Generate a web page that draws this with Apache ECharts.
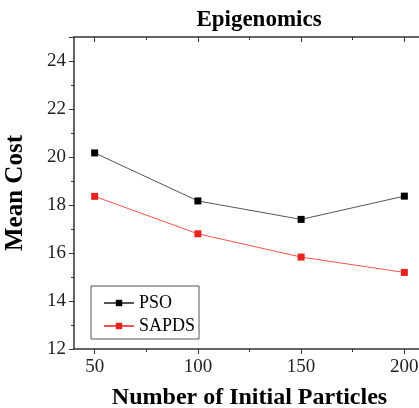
<!DOCTYPE html>
<html>
<head>
<meta charset="utf-8">
<script src="https://cdn.jsdelivr.net/npm/echarts@6/dist/echarts.min.js"></script>
<style>
html, body { margin: 0; padding: 0; background: #fff; }
#container { width: 419px; height: 408px; }
</style>
</head>
<body>
<div id="container"></div>
<script>
// particles on x
const particles = [50, 100, 150, 200];
const psoCost = [20.17, 18.17, 17.4, 18.37];
const sapdsCost = [18.36, 16.8, 15.83, 15.19];
const seriesNames = ['PSO', 'SAPDS'];
const xTicks = [50, 100, 150, 200];
const xMinorTicks = [75, 125, 175];

const font = 'Liberation Serif';
const axisColor = '#333';

function pairs(ys) {
	return particles.map(function (x, i) { return [x, ys[i]]; });
}

// x axis helper: bottom / top, major or minor ticks only
function xAxisOf(pos, ticks, len, withLine, inside) {
	return {
		type: 'value',
		position: pos,
		min: 40,
		max: 210,
		axisLine: { show: withLine, onZero: false, lineStyle: { color: axisColor, width: 1.5 } },
		axisTick: { show: true, inside: inside, length: len, customValues: ticks, lineStyle: { color: axisColor } },
		splitLine: { show: false },
		axisLabel: { show: false }
	};
}

var dom = document.getElementById("container");
var myChart = echarts.init(dom);

var mainX = xAxisOf('bottom', xTicks, 5, true, false);
mainX.name = 'Number of Initial Particles';
mainX.nameLocation = 'middle';
mainX.nameGap = 37;
mainX.nameTextStyle = { fontFamily: font, fontWeight: 'bold', fontSize: 24, color: '#000' };
mainX.axisLabel = { show: true, customValues: xTicks, fontFamily: font, fontSize: 19, color: '#222', margin: 9 };

var option = {
	animation: false,
	title: {
		text: 'Epigenomics',
		left: 254,
		top: 4,
		textAlign: 'center',
		textStyle: { fontFamily: font, fontWeight: 'bold', fontSize: 23, color: '#000' }
	},
	grid: { left: 74, top: 37, right: -6, bottom: 59, outerBoundsMode: 'none' },
	legend: {
		orient: 'vertical',
		left: 91,
		top: 286,
		data: seriesNames,
		itemWidth: 30,
		itemHeight: 8,
		itemGap: 5,
		padding: [8, 4, 4, 12],
		borderColor: '#555',
		borderWidth: 1,
		textStyle: { fontFamily: font, fontSize: 18, color: '#000' }
	},
	xAxis: [
		mainX,
		xAxisOf('bottom', xMinorTicks, 3, false, false),
		xAxisOf('top', xTicks, 5, true, true),
		xAxisOf('top', xMinorTicks, 3, false, true)
	],
	yAxis: {
		type: 'value',
		min: 12,
		max: 25,
		interval: 2,
		name: 'Mean Cost',
		nameLocation: 'middle',
		nameGap: 46,
		nameTextStyle: { fontFamily: font, fontWeight: 'bold', fontSize: 25, color: '#000' },
		axisLine: { show: true, lineStyle: { color: axisColor, width: 1.5 } },
		axisTick: { length: 5, lineStyle: { color: axisColor } },
		minorTick: { show: true, splitNumber: 2, length: 3, lineStyle: { color: axisColor } },
		splitLine: { show: false },
		axisLabel: {
			fontFamily: font, fontSize: 19, color: '#222', margin: 8,
			formatter: function (v) { return v > 24 ? '' : v; }
		}
	},
	series: [
		{
			name: 'PSO',
			type: 'line',
			data: pairs(psoCost),
			symbol: 'rect',
			symbolSize: 7,
			color: '#000',
			lineStyle: { color: '#555', width: 1 },
			itemStyle: { color: '#000' }
		},
		{
			name: 'SAPDS',
			type: 'line',
			data: pairs(sapdsCost),
			symbol: 'rect',
			symbolSize: 7,
			color: '#e8231f',
			lineStyle: { color: '#ff5050', width: 1 },
			itemStyle: { color: '#e8231f' }
		}
	]
};
myChart.setOption(option, true);
</script>
</body>
</html>
